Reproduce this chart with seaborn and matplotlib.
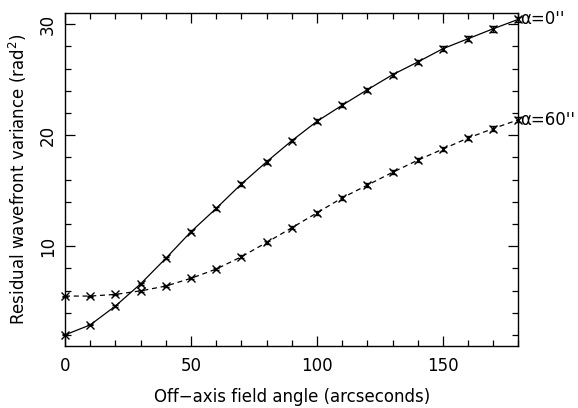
import numpy as np
import pandas as pd
import matplotlib
matplotlib.use('Agg')
import matplotlib.pyplot as plt
import seaborn as sns
from matplotlib.ticker import MultipleLocator

sns.set_theme(style='ticks')
plt.rcParams['font.family'] = ['DejaVu Sans']
plt.rcParams.update({'font.size': 12, 'text.color': 'black',
                     'axes.labelcolor': 'black', 'xtick.color': 'black',
                     'ytick.color': 'black'})

# data
angle = [0, 10, 20, 30, 40, 50, 60, 70, 80, 90, 100, 110, 120, 130, 140, 150, 160, 170, 180]
var_a0 = [2.0, 2.9, 4.6, 6.6, 8.9, 11.3, 13.4, 15.6, 17.6, 19.5, 21.25, 22.7, 24.1, 25.45, 26.6, 27.8, 28.7, 29.6, 30.45]
var_a60 = [5.5, 5.5, 5.65, 5.97, 6.4, 7.1, 7.93, 9.04, 10.33, 11.65, 13.0, 14.35, 15.5, 16.65, 17.75, 18.75, 19.75, 20.6, 21.4]
err_a0 = [0.05, 0.05, 0.08, 0.1, 0.1, 0.12, 0.12, 0.14, 0.15, 0.15, 0.18, 0.18, 0.2, 0.2, 0.22, 0.22, 0.25, 0.25, 0.25]
err_a60 = [0.05, 0.05, 0.06, 0.08, 0.08, 0.1, 0.1, 0.12, 0.12, 0.14, 0.15, 0.15, 0.18, 0.18, 0.2, 0.2, 0.22, 0.22, 0.25]
labels = ["\u03b1=0''", "\u03b1=60''"]

df = pd.DataFrame({
    'angle': angle * 2,
    'var': var_a0 + var_a60,
    'err': err_a0 + err_a60,
    'case': [labels[0]] * len(angle) + [labels[1]] * len(angle),
})

fig = plt.figure(figsize=(5.78, 4.08), dpi=100)
ax = fig.add_axes([0.1125, 0.152, 0.7845, 0.817])

sns.lineplot(data=df, x='angle', y='var', style='case',
             dashes=[(None, None), (4, 3)], color='black', linewidth=0.9,
             legend=False, ax=ax)

for lab in labels:
    d = df[df['case'] == lab]
    ax.errorbar(d['angle'], d['var'], yerr=d['err'], fmt='x', color='black',
                markersize=5.5, markeredgewidth=1.0,
                elinewidth=0.8, capsize=2.5, capthick=0.8, clip_on=False, zorder=3)
    ax.text(d['angle'].iloc[-1] + 0.8, d['var'].iloc[-1], lab, fontsize=12,
            va='center', ha='left', clip_on=False)

ax.set_xlim(0, 180)
ax.set_ylim(1, 31.05)
ax.xaxis.set_major_locator(MultipleLocator(50))
ax.xaxis.set_minor_locator(MultipleLocator(10))
ax.yaxis.set_major_locator(MultipleLocator(10))
ax.yaxis.set_minor_locator(MultipleLocator(2))
ax.tick_params(which='both', direction='in', top=True, right=True, color='black')
ax.tick_params(which='major', length=7, width=0.9, labelsize=12)
ax.tick_params(axis='x', which='major', pad=8)
ax.tick_params(axis='y', which='major', pad=6)
ax.tick_params(which='minor', length=4, width=0.9)
for lbl in ax.get_yticklabels():
    lbl.set_rotation(90)
    lbl.set_va('center')
for s in ax.spines.values():
    s.set_linewidth(1.0)
    s.set_color('black')

ax.set_xlabel('Off\u2212axis field angle (arcseconds)', fontsize=12, labelpad=9)
ax.set_ylabel('Residual wavefront variance (rad$^2$)', fontsize=12, labelpad=7)

fig.savefig('out.png', dpi=100)
